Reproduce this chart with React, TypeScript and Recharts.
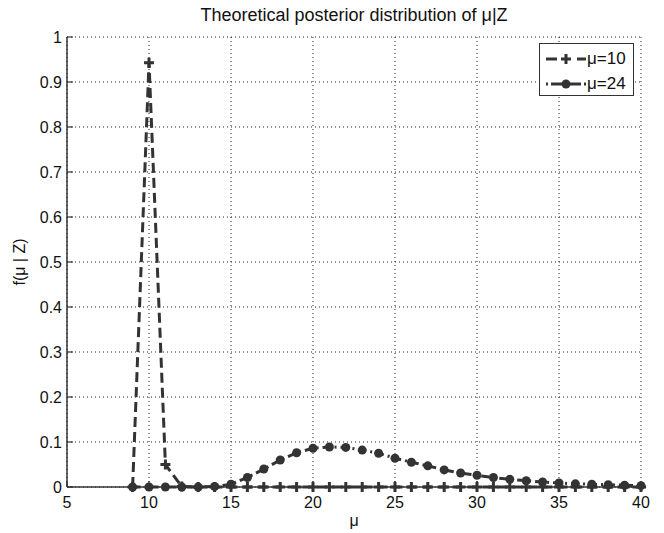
import React from 'react';
import { LineChart, Line, XAxis, YAxis, CartesianGrid, Legend, Label } from 'recharts';

const muValues = [9, 10, 11, 12, 13, 14, 15, 16, 17, 18, 19, 20, 21, 22, 23, 24, 25, 26, 27, 28, 29, 30, 31, 32, 33, 34, 35, 36, 37, 38, 39, 40];
const post10 = [0, 0.943, 0.05, 0.001, 0, 0, 0, 0, 0, 0, 0, 0, 0, 0, 0, 0, 0, 0, 0, 0, 0, 0, 0, 0, 0, 0, 0, 0, 0, 0, 0, 0];
const post24 = [0, 0, 0, 0, 0, 0.001, 0.006, 0.021, 0.04, 0.06, 0.076, 0.086, 0.089, 0.088, 0.082, 0.075, 0.064, 0.055, 0.047, 0.038, 0.031, 0.026, 0.021, 0.017, 0.014, 0.011, 0.009, 0.007, 0.006, 0.005, 0.004, 0.003];
const xTicks = [5, 10, 15, 20, 25, 30, 35, 40];
const yTicks = [0, 0.1, 0.2, 0.3, 0.4, 0.5, 0.6, 0.7, 0.8, 0.9, 1];
const seriesNames = ['μ=10', 'μ=24'];
const titleText = 'Theoretical posterior distribution of μ|Z';
const xLabel = 'μ';
const yLabel = 'f(μ | Z)';

const rows = muValues.map((m, i) => ({ mu: m, f10: post10[i], f24: post24[i] }));

const AX = '#333';
const INK = '#111';
const FONT = '"Liberation Sans", Arial, Helvetica, sans-serif';

const BottomTick = (p: any) => {
  const { x, y, payload } = p;
  return (
    <g>
      <line x1={x} y1={y - 10} x2={x} y2={y - 16} stroke={AX} strokeWidth={1.2} />
      <text x={x} y={y} dy="0.71em" textAnchor="middle" fontSize={16} fill={INK} fontFamily={FONT}>
        {payload.value}
      </text>
    </g>
  );
};

const LeftTick = (p: any) => {
  const { x, y, payload } = p;
  return (
    <g>
      <line x1={x + 5} y1={y} x2={x + 11} y2={y} stroke={AX} strokeWidth={1.2} />
      <text x={x} y={y} dy="0.355em" textAnchor="end" fontSize={16} fill={INK} fontFamily={FONT}>
        {String(payload.value)}
      </text>
    </g>
  );
};

const TopTick = (p: any) => {
  const { x, y } = p;
  return <line x1={x} y1={y} x2={x} y2={y + 6} stroke={AX} strokeWidth={1.2} />;
};

const RightTick = (p: any) => {
  const { x, y } = p;
  return <line x1={x} y1={y} x2={x - 6} y2={y} stroke={AX} strokeWidth={1.2} />;
};

const renderPlus = (props: any) => {
  const { cx, cy, index } = props;
  if (cx == null || cy == null) return <g key={`p${index}`} />;
  return (
    <path
      key={`p${index}`}
      d={`M${cx - 5},${cy}H${cx + 5}M${cx},${cy - 5}V${cy + 5}`}
      stroke={AX}
      strokeWidth={3}
      fill="none"
    />
  );
};

const LegendBox = () => (
  <div
    style={{
      width: 95,
      height: 53,
      boxSizing: 'border-box',
      border: `1px solid ${AX}`,
      background: '#fff',
      position: 'relative',
      fontFamily: FONT,
      fontSize: 17,
      color: INK,
    }}
  >
    <div style={{ position: 'absolute', left: 6, top: 8, height: 14, width: 88, display: 'flex', alignItems: 'center' }}>
      <svg width={40} height={14} style={{ display: 'block' }}>
        <line x1={0} y1={7} x2={40} y2={7} stroke={AX} strokeWidth={3} strokeDasharray="11 20" />
        <path d="M15,7H25M20,2V12" stroke={AX} strokeWidth={3} />
      </svg>
      <span style={{ marginLeft: 1, lineHeight: '14px' }}>{seriesNames[0]}</span>
    </div>
    <div style={{ position: 'absolute', left: 6, top: 33, height: 14, width: 88, display: 'flex', alignItems: 'center' }}>
      <svg width={40} height={14} style={{ display: 'block' }}>
        <line x1={0} y1={7} x2={2} y2={7} stroke={AX} strokeWidth={3} />
        <line x1={5} y1={7} x2={35} y2={7} stroke={AX} strokeWidth={3} />
        <line x1={38} y1={7} x2={40} y2={7} stroke={AX} strokeWidth={3} />
        <circle cx={20} cy={7} r={4.5} fill={AX} />
      </svg>
      <span style={{ marginLeft: 1, lineHeight: '14px' }}>{seriesNames[1]}</span>
    </div>
  </div>
);

export default function App() {
  return (
    <div style={{ position: 'absolute', left: 0, top: 0, width: 664, height: 533, background: '#fff' }}>
      <LineChart width={664} height={533} data={rows} margin={{ top: 37, right: 23, bottom: 0, left: 0 }}>
        <CartesianGrid stroke="#222" strokeDasharray="1 3" strokeWidth={1} />
        <XAxis
          dataKey="mu"
          type="number"
          domain={[5, 40]}
          ticks={xTicks}
          interval={0}
          height={46}
          tickSize={0}
          tickMargin={10}
          tickLine={false}
          axisLine={{ stroke: AX, strokeWidth: 1.5 }}
          tick={BottomTick}
        >
          <Label value={xLabel} position="insideBottom" offset={7} fontSize={16} fill={INK} fontFamily={FONT} />
        </XAxis>
        <XAxis
          xAxisId="top"
          orientation="top"
          dataKey="mu"
          type="number"
          domain={[5, 40]}
          ticks={xTicks}
          interval={0}
          height={0}
          tickSize={0}
          tickMargin={0}
          tickLine={false}
          axisLine={{ stroke: AX, strokeWidth: 1.5 }}
          tick={TopTick}
        />
        <YAxis
          type="number"
          domain={[0, 1]}
          ticks={yTicks}
          interval={0}
          width={67}
          tickSize={0}
          tickMargin={5}
          tickLine={false}
          axisLine={{ stroke: AX, strokeWidth: 1.5 }}
          tick={LeftTick}
        >
          <Label
            value={yLabel}
            angle={-90}
            position="insideLeft"
            offset={19}
            fontSize={16}
            fill={INK}
            fontFamily={FONT}
            style={{ textAnchor: 'middle' }}
          />
        </YAxis>
        <YAxis
          yAxisId="right"
          orientation="right"
          type="number"
          domain={[0, 1]}
          ticks={yTicks}
          interval={0}
          width={0}
          tickSize={0}
          tickMargin={0}
          tickLine={false}
          axisLine={{ stroke: AX, strokeWidth: 1.5 }}
          tick={RightTick}
        />
        <Legend
          layout="vertical"
          align="center"
          verticalAlign="middle"
          wrapperStyle={{ left: 539, top: 43, width: 95, height: 53 }}
          content={() => <LegendBox />}
        />
        <Line
          type="linear"
          dataKey="f10"
          name={seriesNames[0]}
          stroke={AX}
          strokeWidth={3}
          strokeDasharray="10 5"
          dot={renderPlus}
          activeDot={false}
          isAnimationActive={false}
        />
        <Line
          type="linear"
          dataKey="f24"
          name={seriesNames[1]}
          stroke={AX}
          strokeWidth={3}
          strokeDasharray="8 4 2 4"
          dot={{ r: 4.5, fill: AX, stroke: AX, strokeWidth: 0 }}
          activeDot={false}
          isAnimationActive={false}
        />
      </LineChart>
      <svg width={664} height={30} style={{ position: 'absolute', left: 0, top: 0, pointerEvents: 'none' }}>
        <text x={354} y={20.7} textAnchor="middle" fontSize={18} fill={INK} fontFamily={FONT}>
          {titleText}
        </text>
      </svg>
    </div>
  );
}
